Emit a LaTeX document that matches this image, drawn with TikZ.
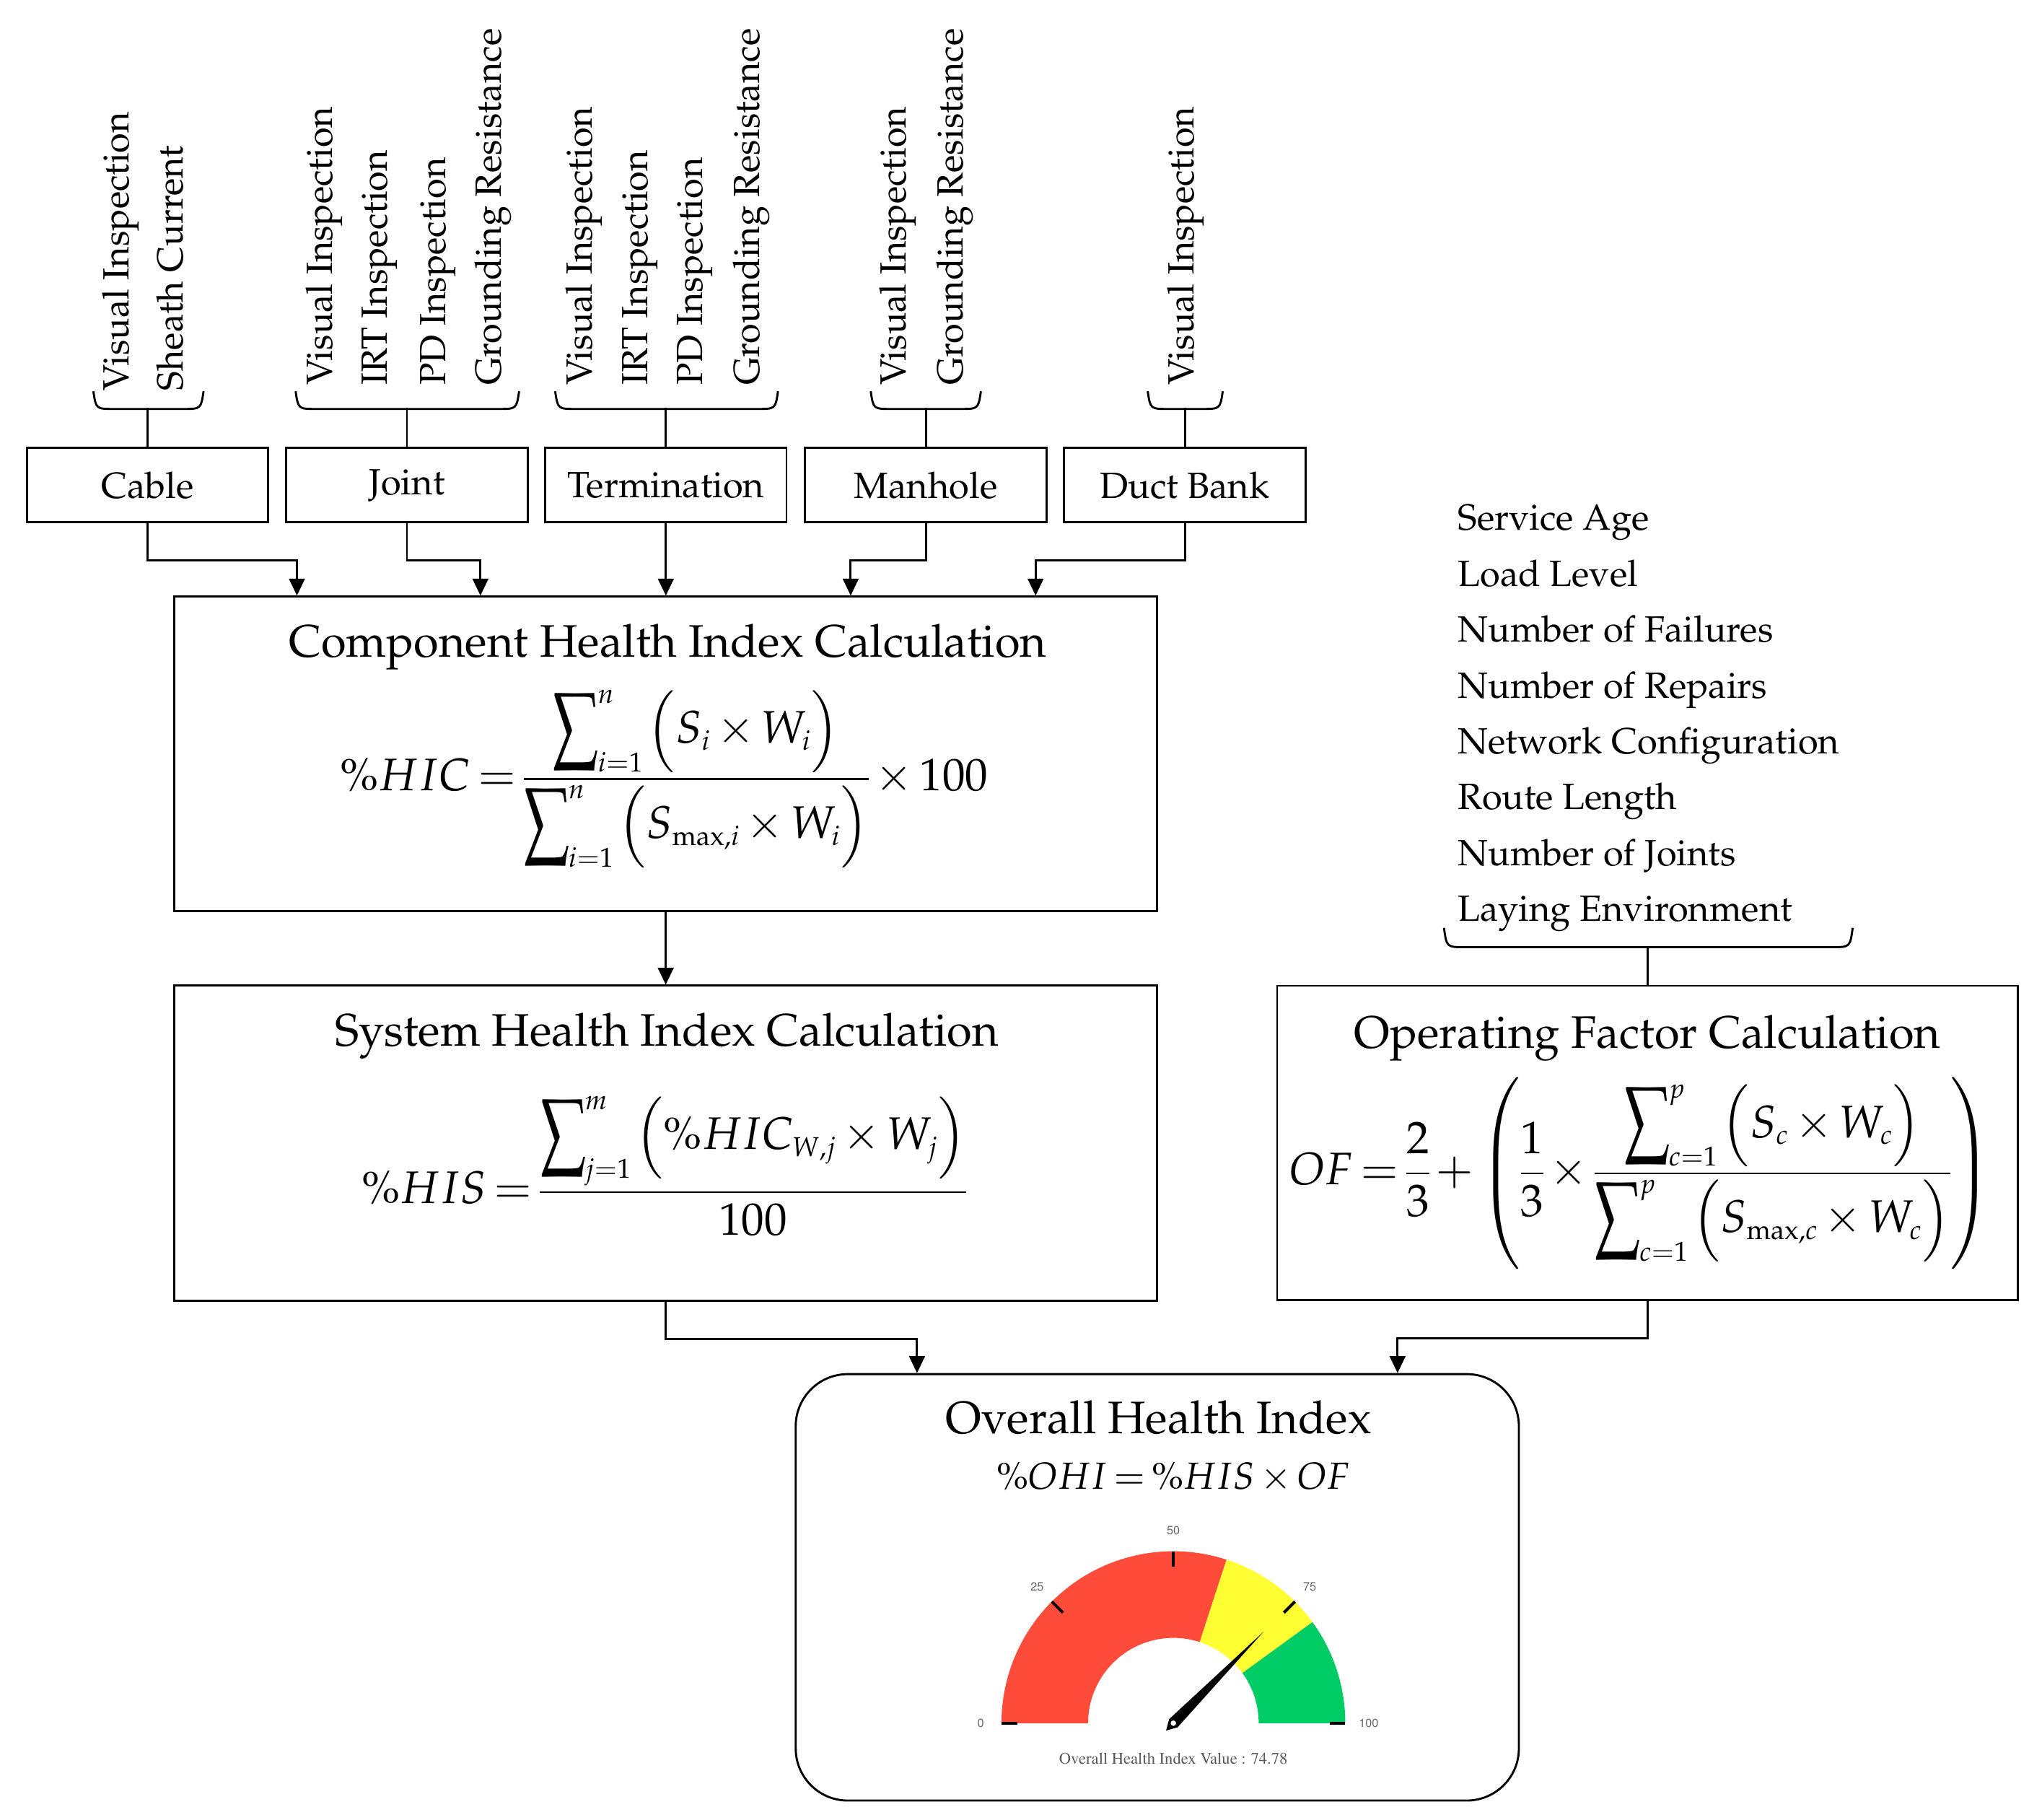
\documentclass[tikz,border=0pt]{standalone}
\usepackage[T1]{fontenc}
\usepackage{mathpazo}
\usepackage{graphicx}
\usetikzlibrary{arrows.meta}
\DeclareMathSizes{35}{35}{21}{15}
\DeclareMathSizes{29}{29}{18}{13}
\definecolor{gred}{HTML}{FF4B3A}
\definecolor{gyel}{HTML}{FFFF33}
\definecolor{ggrn}{HTML}{00CC66}
\newcommand\tightmath{\thinmuskip=1.5mu\medmuskip=2.5mu\thickmuskip=3mu\nulldelimiterspace=0pt}
\newcommand\bsum{\mathop{\vcenter{\hbox{\scalebox{0.9}[1.35]{$\displaystyle\sum$}}}}\nolimits}
\newcommand\tallp{\vphantom{\vcenter{\hbox{\scalebox{1.0}[1.15]{$\displaystyle\sum$}}}}}
\tikzset{
  box/.style={draw, line width=1.6pt, inner sep=0pt},
  lbl/.style={font=\fontsize{28}{34}\selectfont, inner sep=0pt},
  vlbl/.style={lbl, rotate=90, anchor=west, text height=19pt, text depth=6pt},
  listlbl/.style={lbl, anchor=base west},
  ttl/.style={font=\fontsize{35}{42}\selectfont, inner sep=0pt, anchor=base},
  frm/.style={font=\fontsize{35}{42}\selectfont\tightmath, inner sep=0pt, anchor=base},
  conn/.style={line width=1.6pt},
  arr/.style={conn, -{Triangle[length=13pt,width=12pt]}},
  brc/.style={line width=1.6pt},
  glbl/.style={font=\fontfamily{phv}\fontsize{9}{10}\selectfont, text=black!60, inner sep=0pt},
}
\newcommand\mybrace[4]{\draw[brc] (#1,#3) .. controls (#1+2,#4) .. (#1+16,#4) -- (#2-16,#4) .. controls (#2-2,#4) .. (#2,#3);}
\begin{document}
\begin{tikzpicture}[x=1pt,y=-1pt]
\useasboundingbox (0,0) rectangle (1568,1396.8);

% top component boxes
\node[box, lbl, minimum width=185.3pt, minimum height=57pt] (cable) at (113.3,372.5) {Cable};
\node[box, lbl, minimum width=185.3pt, minimum height=57pt] (joint) at (312.5,372.5) {Joint};
\node[box, lbl, minimum width=185.3pt, minimum height=57pt] (term) at (511.3,372.5) {Termination};
\node[box, lbl, minimum width=185.3pt, minimum height=57pt] (manh) at (710.9,372.5) {Manhole};
\node[box, lbl, minimum width=185.3pt, minimum height=57pt] (duct) at (909.8,372.5) {Duct Bank};

% rotated inspection labels
\node[vlbl] (cabA) at (92.2,300) {Visual Inspection};
\node[vlbl] (cabB) at (134.2,300) {Sheath Current};
\node[vlbl] (joiA) at (248.5,296) {Visual Inspection};
\node[vlbl] (joiB) at (290.5,296) {IRT Inspection};
\node[vlbl] (joiC) at (335.6,296) {PD Inspection};
\node[vlbl] (joiD) at (378.1,296) {Grounding Resistance};
\node[vlbl] (terA) at (448.3,296) {Visual Inspection};
\node[vlbl] (terB) at (490.8,296) {IRT Inspection};
\node[vlbl] (terC) at (532.8,296) {PD Inspection};
\node[vlbl] (terD) at (576.4,296) {Grounding Resistance};
\node[vlbl] (manA) at (689.1,296) {Visual Inspection};
\node[vlbl] (manB) at (732.7,296) {Grounding Resistance};
\node[vlbl] (ducA) at (910.1,296) {Visual Inspection};

% braces and stems
\mybrace{71.7}{156.3}{300.4}{314}
\mybrace{227}{398.6}{300.4}{314}
\mybrace{426.3}{597.4}{300.4}{314}
\mybrace{668.6}{753.2}{300.4}{314}
\mybrace{881.3}{938.9}{300.4}{314}
\draw[conn] (cable.north) -- ++(0,-30);
\draw[conn] (joint.north) -- ++(0,-30);
\draw[conn] (term.north) -- ++(0,-30);
\draw[conn] (manh.north) -- ++(0,-30);
\draw[conn] (duct.north) -- ++(0,-30);

% component health index box
\node[box, minimum width=754.6pt, minimum height=241.2pt] (comp) at (511.2,578.7) {};
\node[ttl] (compT) at (512.8,504.5) {Component Health Index Calculation};
\node[frm] (compF) at (509.9,607) {$\displaystyle \%HIC=\frac{\bsum_{i=1}^{n}\left(\tallp S_i\times W_i\right)}{\bsum_{i=1}^{n}\left(\tallp S_{\max,i}\times W_i\right)}\times 100$};

\draw[arr] (cable.south) -- ++(0,28.5) -| ([xshift=-283.2pt]comp.north);
\draw[arr] (joint.south) -- ++(0,28.5) -| ([xshift=-142.3pt]comp.north);
\draw[arr] (term.south) -- (term.south |- comp.north);
\draw[arr] (manh.south) -- ++(0,28.5) -| ([xshift=142pt]comp.north);
\draw[arr] (duct.south) -- ++(0,28.5) -| ([xshift=284pt]comp.north);

% system health index box
\node[box, minimum width=754.6pt, minimum height=241.9pt] (sys) at (511.2,877.75) {};
\node[ttl] (sysT) at (512,803.2) {System Health Index Calculation};
\node[frm] (sysF) at (509.9,924) {$\displaystyle \%HIS=\frac{\bsum_{j=1}^{m}\left(\tallp \%HIC_{W,j}\times W_j\right)}{100}$};
\draw[arr] (comp.south) -- (sys.north);

% operating factor box
\node[box, minimum width=568.8pt, minimum height=241.5pt] (of) at (1265.1,877.6) {};
\node[ttl] (ofT) at (1265,804.7) {Operating Factor Calculation};
\node[frm] (ofF) at (1259.7,909.6) {$\displaystyle OF=\frac{2}{3}+\left(\frac{1}{3}\times\frac{\bsum_{c=1}^{p}\left(\tallp S_c\times W_c\right)}{\bsum_{c=1}^{p}\left(\tallp S_{\max,c}\times W_c\right)}\right)$};

% operating factor inputs
\node[listlbl] (l1) at (1119.3,407.1) {Service Age};
\node[listlbl] (l2) at (1119.3,450) {Load Level};
\node[listlbl] (l3) at (1119.3,492.9) {Number of Failures};
\node[listlbl] (l4) at (1119.3,535.8) {Number of Repairs};
\node[listlbl] (l5) at (1119.3,578.7) {Network Configuration};
\node[listlbl] (l6) at (1119.3,621.6) {Route Length};
\node[listlbl] (l7) at (1119.3,664.5) {Number of Joints};
\node[listlbl] (l8) at (1119.3,707.4) {Laying Environment};
\mybrace{1108.8}{1422.6}{712.4}{727.2}
\draw[conn] (of.north) -- ++(0,-29.5);

% overall health index
\node[box, rounded corners=40pt, minimum width=555.3pt, minimum height=327.4pt] (ohi) at (888.65,1218.7) {};
\node[ttl] (ohiT) at (889.6,1100.4) {Overall Health Index};
\node[frm, font=\fontsize{29}{35}\selectfont\tightmath] (ohiF) at (901,1143.5) {$\%OHI=\%HIS\times OF$};
\draw[arr] (sys.south) -- ++(0,28.5) -| ([xshift=-184.5pt]ohi.north);
\draw[arr] (of.south) -- ++(0,28.5) -| ([xshift=184.5pt]ohi.north);

% gauge
\coordinate (gc) at (901,1323);
\fill[gred] ([shift={(180:132)}]gc) arc[start angle=180,end angle=288,radius=132] -- ([shift={(288:65.5)}]gc) arc[start angle=288,end angle=180,radius=65.5] -- cycle;
\fill[gyel] ([shift={(288:132)}]gc) arc[start angle=288,end angle=324,radius=132] -- ([shift={(324:65.5)}]gc) arc[start angle=324,end angle=288,radius=65.5] -- cycle;
\fill[ggrn] ([shift={(324:132)}]gc) arc[start angle=324,end angle=360,radius=132] -- ([shift={(360:65.5)}]gc) arc[start angle=360,end angle=324,radius=65.5] -- cycle;
\foreach \a in {180,225,270,315,360}
  \draw[line width=2.2pt] ([shift={(\a:132)}]gc) -- ([shift={(\a:120)}]gc);
\node[glbl] (g0) at ([shift={(180:148)}]gc) {0};
\node[glbl] (g25) at ([shift={(225:148)}]gc) {25};
\node[glbl] (g50) at ([shift={(270:148)}]gc) {50};
\node[glbl] (g75) at ([shift={(315:148)}]gc) {75};
\node[glbl] (g100) at ([shift={(360:150)}]gc) {100};
\fill[black] ([shift={(314.6:98.6)}]gc) -- ([shift={(44.6:4.5)}]gc) -- ([shift={(134.6:8)}]gc) -- ([shift={(224.6:4.5)}]gc) -- cycle;
\filldraw[fill=white, draw=black, line width=0.8pt] (gc) circle[radius=2.6];
\node[font=\fontfamily{ptm}\fontsize{12.5}{14}\selectfont, text=black!65, inner sep=0pt] (gval) at (901,1350) {Overall Health Index Value : 74.78};
\end{tikzpicture}
\end{document}
